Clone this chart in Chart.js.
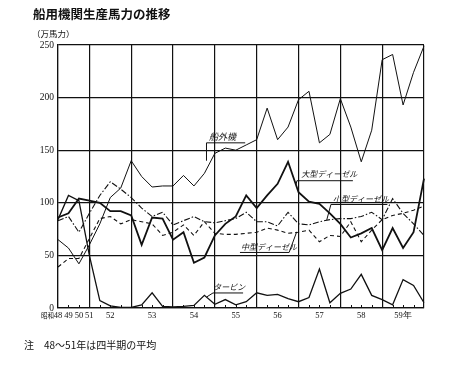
<!DOCTYPE html>
<html lang="ja">
<head>
    <meta charset="UTF-8">
    <title>船用機関生産馬力の推移</title>
    <script src="https://cdn.jsdelivr.net/npm/chart.js"></script>
    <style>
        body { margin: 0; background: #fff; }
        #wrap { position: relative; width: 465px; height: 372px; }
        .txt {
            position: absolute;
            font-family: "Noto Sans CJK JP", sans-serif;
            color: #111;
            white-space: nowrap;
            line-height: 1;
        }
        #title { left: 33px; top: 8px; font-size: 12.5px; font-weight: bold; }
        #unit { left: 32px; top: 29px; font-size: 8.5px; }
        #era { left: 41px; top: 312px; font-size: 6.5px; }
        #note { left: 24px; top: 340px; font-size: 10px; }
    </style>
</head>
<body>
<div id="wrap">
    <canvas id="chart" width="465" height="372"></canvas>
    <div class="txt" id="title">船用機関生産馬力の推移</div>
    <div class="txt" id="unit">（万馬力）</div>
    <div class="txt" id="era">昭和</div>
    <div class="txt" id="note">注　48～51年は四半期の平均</div>
</div>
<script>
    // 48-51: yearly points, 52-59: quarters
    const periods = [
        '48', '49', '50', '51',
        '52-1', '52-2', '52-3', '52-4',
        '53-1', '53-2', '53-3', '53-4',
        '54-1', '54-2', '54-3', '54-4',
        '55-1', '55-2', '55-3', '55-4',
        '56-1', '56-2', '56-3', '56-4',
        '57-1', '57-2', '57-3', '57-4',
        '58-1', '58-2', '58-3', '58-4',
        '59-1', '59-2', '59-3', '59-4'
    ];
    const tickText = {
        '48': '48', '49': '49', '50': '50', '51': '51',
        '52-2': '52', '53-2': '53', '54-2': '54', '55-2': '55',
        '56-2': '56', '57-2': '57', '58-2': '58', '59-2': '59年'
    };
    const gridAt = ['48', '51', '52-4', '53-4', '54-4', '55-4', '56-4', '57-4', '58-4', '59-4'];

    // 万馬力
    const outboard = [
        65, 57, 42, 60, 80, 105, 114, 140, 125, 115,
        116, 116, 126, 116, 128, 147, 152, 150, 155, 160,
        190, 160, 172, 198, 206, 157, 165, 199, 172, 139,
        169, 236, 241, 193, 224, 249
    ];
    const largeDiesel = [
        86, 90, 104, 102, 100, 92, 92, 88, 60, 86,
        85, 65, 72, 43, 48, 69, 80, 87, 107, 95,
        107, 118, 139, 110, 101, 99, 90, 80, 67, 71,
        76, 55, 76, 57, 72, 123
    ];
    const smallDiesel = [
        83, 87, 72, 90, 107, 120, 113, 105, 95, 87,
        91, 79, 83, 87, 82, 81, 83, 85, 91, 82,
        82, 78, 91, 80, 79, 82, 84, 85, 85, 87,
        91, 84, 104, 90, 80, 69
    ];
    const mediumDiesel = [
        39, 47, 47, 66, 85, 87, 80, 84, 82, 80,
        69, 72, 79, 69, 82, 71, 70, 70, 71, 72,
        76, 74, 71, 72, 74, 63, 69, 68, 82, 63,
        74, 84, 88, 90, 93, 97
    ];
    const turbine = [
        84, 107, 102, 50, 7, 2, 0.5, 0.5, 3, 14.5,
        1.5, 1, 1.5, 2.5, 12, 3.5, 8, 3, 6, 14.5,
        12, 13, 9, 6, 10, 37, 5, 14, 18, 32,
        12, 8, 3, 27, 21.5, 5
    ];

    // label text + underline/leader path, in (period index, value) units
    const callouts = [
        { text: '船外機', at: [14.45, 162.5], size: 9, path: [[17.9, 157], [14.2, 157], [14.2, 140]] },
        { text: '大型ディーゼル', at: [23.25, 127.4], size: 8, path: [[28.2, 121], [22.85, 121], [22.75, 117]] },
        { text: '小型ディーゼル', at: [26.3, 104], size: 8, path: [[31.5, 98.4], [26.1, 98.4], [25.7, 83.7]] },
        { text: '中型ディーゼル', at: [17.5, 58.5], size: 8, path: [[17.4, 52.8], [22.1, 52.8], [22.83, 72.5]] },
        { text: 'タービン', at: [14.85, 20.4], size: 8, path: [[17.7, 14.3], [14.82, 14.3], [14.22, 10.5]] }
    ];

    const ink = '#111';

    const calloutPlugin = {
        id: 'callouts',
        afterDatasetsDraw(chart) {
            const { ctx, scales: { x, y } } = chart;
            ctx.save();
            ctx.strokeStyle = ink;
            ctx.fillStyle = ink;
            ctx.lineWidth = 1;

            // small inner ticks on the time axis
            periods.forEach((p, i) => {
                if (gridAt.includes(p)) return;
                const px = Math.round(x.getPixelForValue(i)) + 0.5;
                ctx.beginPath();
                ctx.moveTo(px, y.bottom);
                ctx.lineTo(px, y.bottom - 3);
                ctx.stroke();
            });

            callouts.forEach(c => {
                ctx.font = `italic ${c.size}px "Noto Sans CJK JP", sans-serif`;
                ctx.textBaseline = 'middle';
                ctx.textAlign = 'left';
                ctx.fillText(c.text, x.getPixelForValue(c.at[0]), y.getPixelForValue(c.at[1]));
                ctx.beginPath();
                c.path.forEach((pt, k) => {
                    const px = x.getPixelForValue(pt[0]);
                    const py = y.getPixelForValue(pt[1]);
                    if (k === 0) ctx.moveTo(px, py); else ctx.lineTo(px, py);
                });
                ctx.stroke();
            });
            ctx.restore();
        }
    };

    const series = [
        { label: '船外機', data: outboard, width: 1, dash: [] },
        { label: '大型ディーゼル', data: largeDiesel, width: 1.8, dash: [] },
        { label: '小型ディーゼル', data: smallDiesel, width: 1.1, dash: [6, 2, 1.5, 2] },
        { label: '中型ディーゼル', data: mediumDiesel, width: 1.1, dash: [4, 3] },
        { label: 'タービン', data: turbine, width: 1.3, dash: [] }
    ];

    const chartCtx = document.getElementById('chart').getContext('2d');
    new Chart(chartCtx, {
        type: 'line',
        data: {
            labels: periods,
            datasets: series.map(s => ({
                label: s.label,
                data: s.data,
                borderColor: ink,
                borderWidth: s.width,
                borderDash: s.dash,
                pointRadius: 0,
                tension: 0,
                fill: false
            }))
        },
        options: {
            responsive: false,
            animation: false,
            layout: { padding: { left: 0, right: 41, top: 45, bottom: 0 } },
            plugins: {
                legend: { display: false },
                tooltip: { enabled: false }
            },
            scales: {
                x: {
                    offset: false,
                    grid: {
                        color: c => gridAt.includes(periods[c.index]) ? ink : 'transparent',
                        lineWidth: 1.2,
                        drawTicks: false
                    },
                    border: { color: ink, width: 1.2 },
                    ticks: {
                        autoSkip: false,
                        maxRotation: 0,
                        padding: 3,
                        color: ink,
                        font: { family: '"Liberation Serif", serif', size: 8.5 },
                        callback: (v, i) => tickText[periods[i]] || ''
                    },
                    afterFit: s => { s.height = 64; }
                },
                y: {
                    min: 0,
                    max: 250,
                    ticks: {
                        stepSize: 50,
                        padding: 4,
                        color: ink,
                        font: { family: '"Liberation Serif", serif', size: 9.5 }
                    },
                    grid: { color: ink, lineWidth: 1.2, drawTicks: false },
                    border: { color: ink, width: 1.2 },
                    afterFit: s => { s.width = 58; }
                }
            }
        },
        plugins: [calloutPlugin]
    });
</script>
</body>
</html>
